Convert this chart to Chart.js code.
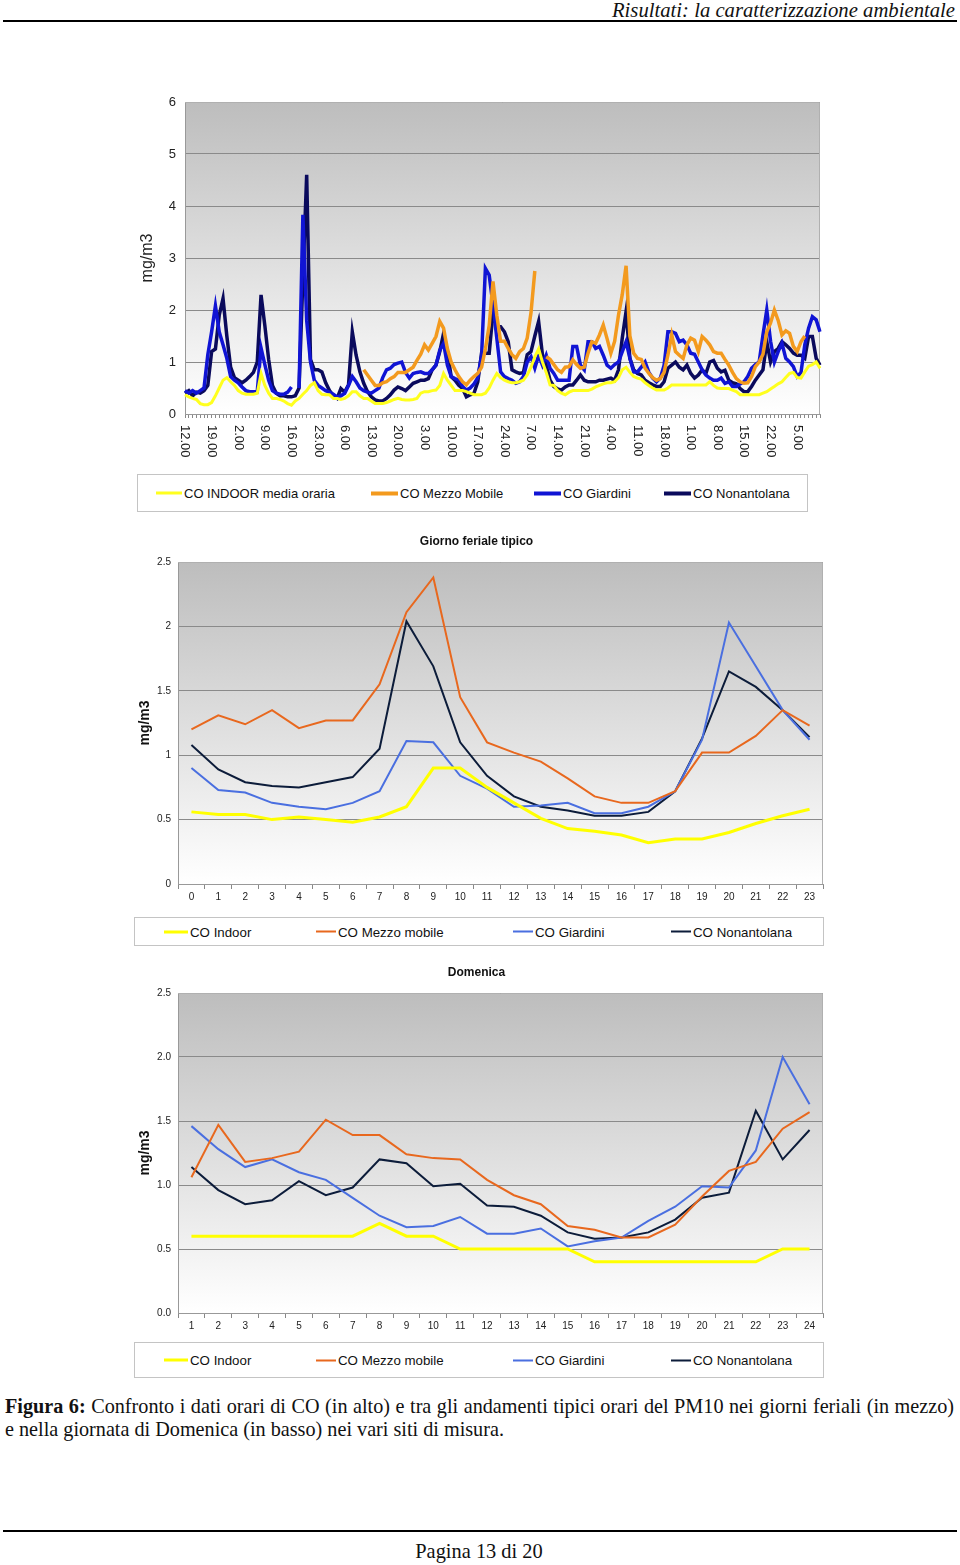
<!DOCTYPE html>
<html>
<head>
<meta charset="utf-8">
<script src="https://cdn.jsdelivr.net/npm/chart.js@4.4.0/dist/chart.umd.min.js"></script>
<style>
  body { margin: 0; width: 960px; height: 1565px; position: relative; background: #fff; font-family: "Liberation Sans", Arial, sans-serif; color: #111; }
  .box { position: absolute; }
  .serif { font-family: "Liberation Serif", "Times New Roman", serif; }
  .rule { position: absolute; left: 3px; width: 954px; height: 2px; background: #000; }
  .legend { position: absolute; border: 1px solid #c4c4c4; background: #fff; box-sizing: border-box; }
  .item { position: absolute; top: 50%; transform: translateY(-50%); display: flex; align-items: center; white-space: nowrap; }
  .swatch { display: inline-block; margin-right: 2px; }
</style>
</head>
<body>

<div class="box serif" style="right:5px; top:-1px; font-size:20.7px; font-style:italic;">Risultati: la caratterizzazione ambientale</div>
<div class="rule" style="top:20px;"></div>

<div class="box" style="left:130px; top:90px;"><canvas id="coHourly" width="700" height="380"></canvas></div>
<div class="legend" style="left:137px; top:474px; width:671px; height:38px; font-size:13px;">
  <div class="item" style="left:18px;"><span class="swatch" style="width:26px;height:3px;background:#ffff1e"></span>CO INDOOR media oraria</div>
  <div class="item" style="left:233px;"><span class="swatch" style="width:27px;height:4px;background:#f39a1e"></span>CO Mezzo Mobile</div>
  <div class="item" style="left:396px;"><span class="swatch" style="width:27px;height:4px;background:#1014d4"></span>CO Giardini</div>
  <div class="item" style="left:526px;"><span class="swatch" style="width:27px;height:4px;background:#0a0a5c"></span>CO Nonantolana</div>
</div>

<div class="box" style="left:130px; top:530px;"><canvas id="coFeriale" width="700" height="387"></canvas></div>
<div class="legend" style="left:134px; top:917px; width:690px; height:29px; font-size:13.3px;">
  <div class="item" style="left:29px;"><span class="swatch" style="width:24px;height:3px;background:#ffff00"></span>CO Indoor</div>
  <div class="item" style="left:181px;"><span class="swatch" style="width:20px;height:2px;background:#e8681e"></span>CO Mezzo mobile</div>
  <div class="item" style="left:378px;"><span class="swatch" style="width:20px;height:2px;background:#4a6fe0"></span>CO Giardini</div>
  <div class="item" style="left:536px;"><span class="swatch" style="width:20px;height:2px;background:#0c1c3a"></span>CO Nonantolana</div>
</div>

<div class="box" style="left:130px; top:960px;"><canvas id="coDomenica" width="700" height="382"></canvas></div>
<div class="legend" style="left:134px; top:1342px; width:690px; height:36px; font-size:13.3px;">
  <div class="item" style="left:29px;"><span class="swatch" style="width:24px;height:3px;background:#ffff00"></span>CO Indoor</div>
  <div class="item" style="left:181px;"><span class="swatch" style="width:20px;height:2px;background:#e8681e"></span>CO Mezzo mobile</div>
  <div class="item" style="left:378px;"><span class="swatch" style="width:20px;height:2px;background:#4a6fe0"></span>CO Giardini</div>
  <div class="item" style="left:536px;"><span class="swatch" style="width:20px;height:2px;background:#0c1c3a"></span>CO Nonantolana</div>
</div>

<div class="box serif" style="left:5px; top:1395px; width:949px; font-size:20.2px; line-height:23px;">
  <div style="text-align:justify; text-align-last:justify; white-space:nowrap;"><b>Figura 6:</b> Confronto i dati orari di CO (in alto) e tra gli andamenti tipici orari del PM10 nei giorni feriali (in mezzo)</div>
  <div>e nella giornata di Domenica (in basso) nei vari siti di misura.</div>
</div>

<div class="rule" style="top:1530px;"></div>
<div class="box serif" style="left:0; width:958px; top:1540px; text-align:center; font-size:20.4px;">Pagina 13 di 20</div>

<script>
// ore: 168 valori orari a partire dalle 12.00
const hourLabels = [];
for (let i = 0; i < 168; i++) {
    const h = (12 + i) % 24;
    hourLabels.push((h === 0 ? 24 : h) + '.00');
}

const indoorCO = [
    0.37, 0.33, 0.3, 0.28, 0.2, 0.18, 0.18, 0.22, 0.35, 0.5, 0.65, 0.7,
    0.62, 0.55, 0.45, 0.4, 0.38, 0.38, 0.38, 0.4, 0.78, 0.55, 0.4, 0.3,
    0.3, 0.28, 0.25, 0.2, 0.17, 0.25, 0.3, 0.38, 0.45, 0.55, 0.6, 0.45,
    0.38, 0.37, 0.37, 0.3, 0.3, 0.28, 0.3, 0.35, 0.43, 0.43, 0.35, 0.3,
    0.3, 0.25, 0.2, 0.2, 0.2, 0.22, 0.25, 0.28, 0.3, 0.28, 0.27, 0.27,
    0.28, 0.3, 0.4, 0.43, 0.43, 0.45, 0.46, 0.55, 0.78, 0.65, 0.55, 0.45,
    0.45, 0.45, 0.43, 0.4, 0.37, 0.37, 0.37, 0.4, 0.5, 0.65, 0.78, 0.7,
    0.65, 0.62, 0.6, 0.6, 0.62, 0.65, 0.75, 0.9, 1.1, 1.25, 1.0, 0.8,
    0.56, 0.55, 0.45, 0.4, 0.37, 0.42, 0.45, 0.45, 0.45, 0.45, 0.45, 0.48,
    0.52, 0.55, 0.58, 0.6, 0.6, 0.62, 0.7, 0.85, 0.9, 0.8, 0.72, 0.69,
    0.67, 0.6, 0.55, 0.5, 0.46, 0.46, 0.46, 0.5, 0.56, 0.56, 0.56, 0.56,
    0.56, 0.56, 0.56, 0.56, 0.56, 0.56, 0.62, 0.55, 0.5, 0.49, 0.49, 0.49,
    0.46, 0.43, 0.37, 0.37, 0.37, 0.37, 0.37, 0.37, 0.4, 0.43, 0.48, 0.53,
    0.58, 0.62, 0.7, 0.78, 0.8, 0.7, 0.69, 0.81, 0.92, 0.95, 1.0, 0.88
];
const mezzoCO = [
    null, null, null, null, null, null, null, null, null, null, null, null,
    null, null, null, null, null, null, null, null, null, null, null, null,
    null, null, null, null, null, null, null, null, null, null, null, null,
    null, null, null, null, null, null, null, null, null, null, null, 0.85,
    0.75, 0.65, 0.55, 0.55, 0.6, 0.62, 0.68, 0.72, 0.8, 0.8, 0.8, 0.85,
    0.9, 1.03, 1.15, 1.33, 1.23, 1.36, 1.49, 1.78, 1.65, 1.26, 1.0, 0.85,
    0.72, 0.62, 0.56, 0.65, 0.72, 0.78, 0.9, 1.25, 1.7, 2.55, 1.9, 1.4,
    1.4, 1.26, 1.14, 1.07, 1.2, 1.26, 1.46, 1.95, 2.75, null, null, 1.1,
    1.05, 0.95, 0.85, 0.8, 0.9, 0.91, 1.04, 0.95, 0.88, 0.9, 1.17, 1.39,
    1.36, 1.52, 1.71, 1.45, 1.17, 1.4, 1.9, 2.3, 2.85, 1.5, 1.17, 1.07,
    1.05, 0.88, 0.78, 0.7, 0.65, 0.68, 0.8, 1.13, 1.52, 1.2, 1.13, 1.07,
    1.33, 1.46, 1.42, 1.2, 1.49, 1.42, 1.33, 1.2, 1.17, 1.17, 1.05, 0.94,
    0.8, 0.68, 0.62, 0.59, 0.6, 0.72, 0.91, 1.0, 1.15, 1.58, 1.75, 2.0,
    1.8, 1.52, 1.6, 1.55, 1.3, 1.2, 1.39, 1.5, null, null, null, null
];
const giardiniCO = [
    0.45, 0.4, 0.45, 0.4, 0.45, 0.5, 1.14, 1.58, 2.08, 1.58, 1.33, 1.07,
    0.72, 0.65, 0.6, 0.52, 0.45, 0.43, 0.43, 0.43, 1.27, 0.95, 0.65, 0.45,
    0.4, 0.38, 0.38, 0.42, 0.52, null, 0.5, 3.83, 1.8, 1.0, 0.65, 0.55,
    0.5, 0.45, 0.42, 0.38, 0.33, 0.35, 0.4, 0.55, 0.72, 0.62, 0.5, 0.45,
    0.42, 0.4, 0.45, 0.5, 0.7, 0.85, 0.88, 0.95, 0.98, 1.0, 0.8, 0.69,
    0.78, 0.8, 0.81, 0.78, 0.78, 0.85, 0.94, 1.23, 1.36, 0.94, 0.72, 0.68,
    0.65, 0.53, 0.46, 0.5, 0.58, 0.7, 1.13, 2.8, 2.67, 2.1, 1.46, 0.81,
    0.72, 0.68, 0.65, 0.59, 0.62, 0.72, 1.0, 1.1, 0.88, 1.13, 0.94, 1.13,
    0.88, 0.78, 0.65, 0.65, 0.65, 0.65, 1.3, 1.3, 0.94, 0.85, 1.39, 1.39,
    1.26, 1.3, 1.13, 0.94, 0.88, 0.95, 1.0, 1.2, 1.39, 1.07, 0.81, 0.81,
    0.9, 1.0, 0.8, 0.69, 0.62, 0.69, 0.94, 1.58, 1.58, 1.55, 1.39, 1.42,
    1.33, 1.17, 1.15, 1.0, 0.85, 0.75, 0.69, 0.65, 0.65, 0.69, 0.59, 0.62,
    0.53, 0.53, 0.58, 0.62, 0.72, 0.88, 0.95, 1.0, 1.52, 2.0, 1.4, 1.0,
    1.2, 1.36, 1.07, 1.0, 0.91, 0.72, 0.8, 1.33, 1.65, 1.87, 1.81, 1.58
];
const nonantolanaCO = [
    0.4, 0.45, 0.35, 0.42, 0.4, 0.45, 0.55, 1.2, 1.25, 1.9, 2.22, 1.5,
    0.9, 0.7, 0.65, 0.6, 0.65, 0.72, 0.8, 1.0, 2.29, 1.7, 1.05, 0.55,
    0.4, 0.35, 0.35, 0.33, 0.33, 0.35, 0.5, 2.6, 4.6, 1.05, 0.85, 0.85,
    0.81, 0.6, 0.45, 0.35, 0.3, 0.49, 0.42, 0.56, 1.58, 1.13, 0.81, 0.59,
    0.43, 0.33, 0.27, 0.25, 0.25, 0.3, 0.37, 0.46, 0.52, 0.49, 0.45, 0.52,
    0.59, 0.62, 0.65, 0.65, 0.68, 0.85, 0.94, 1.2, 1.55, 1.2, 0.72, 0.65,
    0.55, 0.49, 0.33, 0.37, 0.4, 0.62, 1.17, 1.17, 1.17, 1.96, 1.68, 1.68,
    1.58, 1.39, 0.85, 0.81, 0.78, 0.8, 1.14, 1.2, 1.5, 1.78, 1.14, 0.94,
    0.65, 0.53, 0.48, 0.46, 0.52, 0.56, 0.56, 0.65, 0.75, 0.65, 0.62, 0.62,
    0.62, 0.65, 0.65, 0.67, 0.69, 0.65, 0.85, 1.46, 1.97, 1.07, 0.85, 0.78,
    0.75, 0.65, 0.6, 0.56, 0.53, 0.53, 0.62, 0.88, 0.94, 1.0, 0.9, 0.85,
    0.94, 0.78, 0.69, 0.75, 0.85, 0.78, 1.0, 1.03, 0.88, 0.81, 0.84, 0.65,
    0.6, 0.58, 0.49, 0.43, 0.43, 0.53, 0.65, 0.75, 0.85, 1.39, 1.0, 1.2,
    1.26, 1.39, 1.33, 1.26, 1.17, 1.13, 1.13, 1.07, 1.49, 1.49, 1.07, 0.94
];

// giorno feriale tipico (ore 0-23)
const ferLabels = ['0','1','2','3','4','5','6','7','8','9','10','11','12','13','14','15','16','17','18','19','20','21','22','23'];
const ferIndoor = [0.56, 0.54, 0.54, 0.5, 0.52, 0.5, 0.48, 0.52, 0.6, 0.9, 0.9, 0.75, 0.63, 0.51, 0.43, 0.41, 0.38, 0.32, 0.35, 0.35, 0.4, 0.47, 0.53, 0.58];
const ferMezzo = [1.2, 1.31, 1.24, 1.35, 1.21, 1.27, 1.27, 1.55, 2.11, 2.38, 1.45, 1.1, 1.02, 0.95, 0.82, 0.68, 0.63, 0.63, 0.72, 1.02, 1.02, 1.15, 1.35, 1.23];
const ferGiardini = [0.9, 0.73, 0.71, 0.63, 0.6, 0.58, 0.63, 0.72, 1.11, 1.1, 0.84, 0.74, 0.6, 0.61, 0.63, 0.55, 0.55, 0.6, 0.72, 1.12, 2.03, 1.69, 1.35, 1.12];
const ferNonantolana = [1.08, 0.89, 0.79, 0.76, 0.75, 0.79, 0.83, 1.05, 2.04, 1.69, 1.1, 0.84, 0.68, 0.6, 0.57, 0.53, 0.53, 0.56, 0.72, 1.13, 1.65, 1.53, 1.35, 1.14];

// domenica (ore 1-24)
const domLabels = ['1','2','3','4','5','6','7','8','9','10','11','12','13','14','15','16','17','18','19','20','21','22','23','24'];
const domIndoor = [0.6, 0.6, 0.6, 0.6, 0.6, 0.6, 0.6, 0.7, 0.6, 0.6, 0.5, 0.5, 0.5, 0.5, 0.5, 0.4, 0.4, 0.4, 0.4, 0.4, 0.4, 0.4, 0.5, 0.5];
const domMezzo = [1.06, 1.47, 1.18, 1.21, 1.26, 1.51, 1.39, 1.39, 1.24, 1.21, 1.2, 1.04, 0.92, 0.85, 0.68, 0.65, 0.59, 0.59, 0.69, 0.91, 1.11, 1.18, 1.44, 1.57];
const domGiardini = [1.46, 1.28, 1.14, 1.2, 1.1, 1.04, 0.9, 0.76, 0.67, 0.68, 0.75, 0.62, 0.62, 0.66, 0.52, 0.56, 0.59, 0.72, 0.83, 0.99, 0.98, 1.27, 2.0, 1.63];
const domNonantolana = [1.14, 0.96, 0.85, 0.88, 1.03, 0.92, 0.98, 1.2, 1.17, 0.99, 1.01, 0.84, 0.83, 0.76, 0.63, 0.58, 0.59, 0.63, 0.73, 0.9, 0.94, 1.58, 1.2, 1.43];

Chart.defaults.font.family = '"Liberation Sans", Arial, sans-serif';
Chart.defaults.color = '#222';
Chart.defaults.animation = false;

// sfondo grigio sfumato dell'area del grafico + cornice
const plotBackground = {
    id: 'plotBackground',
    beforeDraw(chart) {
        const { ctx, chartArea: a } = chart;
        const g = ctx.createLinearGradient(0, a.top, 0, a.bottom);
        g.addColorStop(0, '#bdbdbd');
        g.addColorStop(1, '#ffffff');
        ctx.save();
        ctx.fillStyle = g;
        ctx.fillRect(a.left, a.top, a.right - a.left, a.bottom - a.top);
        ctx.restore();
    },
    beforeDatasetsDraw(chart) {
        const { ctx, chartArea: a } = chart;
        ctx.save();
        ctx.strokeStyle = '#b0b0b0';
        ctx.lineWidth = 1;
        ctx.beginPath();
        ctx.moveTo(a.left, a.top + 0.5);
        ctx.lineTo(a.right - 0.5, a.top + 0.5);
        ctx.lineTo(a.right - 0.5, a.bottom);
        ctx.stroke();
        ctx.restore();
    }
};
Chart.register(plotBackground);

// etichette orarie ruotate (lettura dall'alto in basso), una ogni 7 ore
const rotatedHours = {
    id: 'rotatedHours',
    afterDraw(chart) {
        const xs = chart.scales.x;
        const ctx = chart.ctx;
        ctx.save();
        ctx.font = '13px "Liberation Sans", Arial, sans-serif';
        ctx.fillStyle = '#222';
        ctx.textAlign = 'left';
        ctx.textBaseline = 'middle';
        hourLabels.forEach((lab, i) => {
            if (i % 7 !== 0) return;
            const x = xs.getPixelForValue(i);
            ctx.save();
            ctx.translate(x, xs.top + 11);
            ctx.rotate(Math.PI / 2);
            ctx.fillText(lab, 0, 0);
            ctx.restore();
        });
        ctx.restore();
    }
};

function line(label, data, color, width) {
    return {
        label, data,
        borderColor: color,
        backgroundColor: color,
        borderWidth: width,
        pointRadius: 0,
        tension: 0,
        spanGaps: false
    };
}

new Chart(document.getElementById('coHourly'), {
    type: 'line',
    data: {
        labels: hourLabels,
        datasets: [
            line('CO INDOOR media oraria', indoorCO, '#ffff1e', 3),
            line('CO Mezzo Mobile', mezzoCO, '#f39a1e', 3.5),
            line('CO Giardini', giardiniCO, '#1014d4', 3.5),
            line('CO Nonantolana', nonantolanaCO, '#0a0a5c', 3.5)
        ]
    },
    options: {
        responsive: false,
        devicePixelRatio: 1,
        layout: { padding: { top: 12, right: 10, left: 0, bottom: 0 } },
        plugins: { legend: { display: false }, tooltip: { enabled: false } },
        scales: {
            x: {
                ticks: { display: false },
                grid: { drawOnChartArea: false, drawTicks: true, tickLength: 4, color: '#888' },
                border: { color: '#999' },
                afterFit: s => { s.height = 56; }
            },
            y: {
                min: 0, max: 6,
                ticks: { stepSize: 1, padding: 0, font: { size: 13 }, color: '#222' },
                grid: { color: '#8a8a8a', drawTicks: true, tickLength: 9, tickColor: 'rgba(0,0,0,0)' },
                border: { color: '#999' },
                title: { display: true, text: 'mg/m3', font: { size: 16 }, color: '#222', padding: { top: 8, bottom: 0 } },
                afterFit: s => { s.width = 55; }
            }
        }
    },
    plugins: [rotatedHours]
});

function typicalChart(id, title, labels, sets, fmt, xHeight, titlePad) {
    new Chart(document.getElementById(id), {
        type: 'line',
        data: {
            labels,
            datasets: [
                line('CO Indoor', sets[0], '#ffff00', 3),
                line('CO Mezzo mobile', sets[1], '#e8681e', 2),
                line('CO Giardini', sets[2], '#4a6fe0', 2),
                line('CO Nonantolana', sets[3], '#0c1c3a', 2)
            ]
        },
        options: {
            responsive: false,
            devicePixelRatio: 1,
            layout: { padding: { top: 0, right: 7, left: 0, bottom: 0 } },
            plugins: {
                legend: { display: false },
                tooltip: { enabled: false },
                title: {
                    display: true, text: title, color: '#111',
                    font: { size: 12, weight: 'bold' },
                    padding: titlePad
                }
            },
            scales: {
                x: {
                    offset: true,
                    ticks: { font: { size: 10 }, padding: 2, color: '#222', autoSkip: false, maxRotation: 0 },
                    grid: { offset: true, drawOnChartArea: false, tickLength: 5, color: '#888' },
                    border: { color: '#999' },
                    afterFit: s => { s.height = xHeight; }
                },
                y: {
                    min: 0, max: 2.5,
                    ticks: { stepSize: 0.5, padding: 7, font: { size: 10 }, color: '#222', callback: fmt },
                    grid: { color: '#8a8a8a', drawTicks: false },
                    border: { color: '#999' },
                    title: { display: true, text: 'mg/m3', font: { size: 14, weight: 'bold' }, color: '#111', padding: { top: 7, bottom: 0 } },
                    afterFit: s => { s.width = 48; }
                }
            }
        }
    });
}

typicalChart('coFeriale', 'Giorno feriale tipico', ferLabels,
    [ferIndoor, ferMezzo, ferGiardini, ferNonantolana],
    v => String(v), 33, { top: 4, bottom: 13.6 });

typicalChart('coDomenica', 'Domenica', domLabels,
    [domIndoor, domMezzo, domGiardini, domNonantolana],
    v => v.toFixed(1), 29, { top: 5, bottom: 13.6 });
</script>
</body>
</html>
